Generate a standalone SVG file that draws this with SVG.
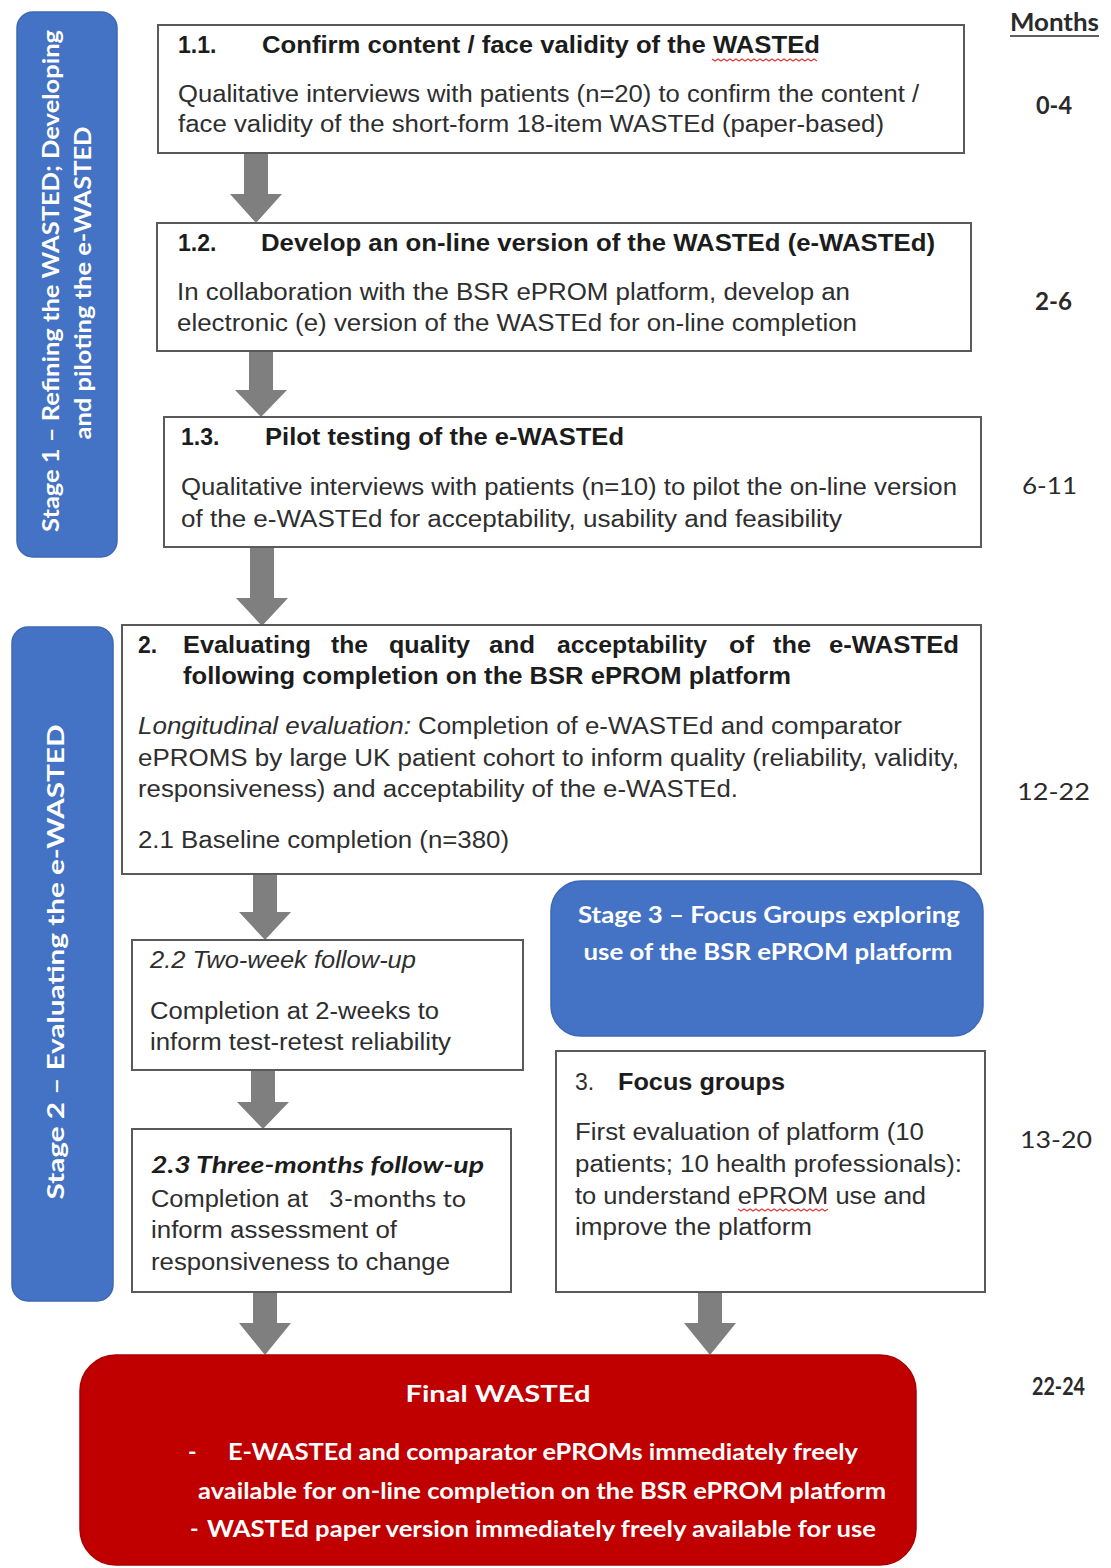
<svg xmlns="http://www.w3.org/2000/svg" width="1111" height="1568" viewBox="0 0 1111 1568">
<defs>
<style>
.box{fill:#fff;stroke:#5a5a5a;stroke-width:2}
.stage{fill:#4472C4;stroke:#3e68b4;stroke-width:1.5}
.final{fill:#C00000;stroke:#a80000;stroke-width:1.5}
.arrow{fill:#7f7f7f}
.t{font-family:"Liberation Sans",Arial,sans-serif;font-size:23px;fill:#2e2e2e}
.b{font-weight:bold;fill:#1c1c1c}
.i{font-style:italic}
.c{font-family:Lato,"Open Sans",sans-serif}
.w{fill:#fff;font-weight:bold}
.m{font-family:Lato,"Open Sans",sans-serif;font-size:24px;fill:#2a2a2a}
.sq{fill:none;stroke:#e03a3a;stroke-width:1.2}
</style>
</defs>
<rect width="1111" height="1568" fill="#fff"/>

<g id="connectors">
<path class="arrow" d="M244,153 H268 V194 H282 L256,223 L230,194 H244 Z"/>
<path class="arrow" d="M249,351 H273 V390 H287 L261,417 L235,390 H249 Z"/>
<path class="arrow" d="M250,547 H274 V598 H288 L262,626 L236,598 H250 Z"/>
<path class="arrow" d="M253,874 H277 V912 H291 L265,940 L239,912 H253 Z"/>
<path class="arrow" d="M251,1070 H275 V1102 H289 L263,1129 L237,1102 H251 Z"/>
<path class="arrow" d="M253,1292 H277 V1323 H291 L265,1355 L239,1323 H253 Z"/>
<path class="arrow" d="M698,1292 H722 V1323 H736 L710,1355 L684,1323 H698 Z"/>
</g>

<g id="months">
<text class="m b" x="1010" y="31" textLength="89" lengthAdjust="spacingAndGlyphs">Months</text>
<line x1="1010" y1="36" x2="1099" y2="36" stroke="#2a2a2a" stroke-width="1.5"/>
<text class="m b" x="1036" y="114" textLength="36" lengthAdjust="spacingAndGlyphs">0-4</text>
<text class="m b" x="1035" y="310" textLength="37" lengthAdjust="spacingAndGlyphs">2-6</text>
<text class="m" x="1022" y="494" textLength="55" lengthAdjust="spacingAndGlyphs">6-11</text>
<text class="m" x="1017" y="800" textLength="73" lengthAdjust="spacingAndGlyphs">12-22</text>
<text class="m" x="1020" y="1148" textLength="72" lengthAdjust="spacingAndGlyphs">13-20</text>
<text class="m b" x="1032" y="1395" textLength="53" lengthAdjust="spacingAndGlyphs">22-24</text>
</g>

<g id="stage1">
<rect class="stage" x="17" y="12" width="100" height="545" rx="16"/>
<text class="t c w" font-size="24" transform="translate(59,281) rotate(-90)" text-anchor="middle" textLength="502" lengthAdjust="spacingAndGlyphs">Stage 1 – Refining the WASTED; Developing</text>
<text class="t c w" font-size="24" transform="translate(91,283) rotate(-90)" text-anchor="middle" textLength="313" lengthAdjust="spacingAndGlyphs">and piloting  the e-WASTED</text>
</g>

<g id="stage2">
<rect class="stage" x="12" y="627" width="101" height="674" rx="16"/>
<text class="t c w" font-size="25" transform="translate(64,962) rotate(-90)" text-anchor="middle" textLength="475" lengthAdjust="spacingAndGlyphs">Stage 2 – Evaluating the e-WASTED</text>
</g>

<g id="box11">
<rect class="box" x="158" y="25" width="806" height="128"/>
<text class="t b" x="178" y="53">1.1.</text>
<text class="t b" x="262" y="53" textLength="558" lengthAdjust="spacingAndGlyphs">Confirm content / face validity of the WASTEd</text>
<path class="sq" d="M712,59 l3,2 l3,-2 l3,2 l3,-2 l3,2 l3,-2 l3,2 l3,-2 l3,2 l3,-2 l3,2 l3,-2 l3,2 l3,-2 l3,2 l3,-2 l3,2 l3,-2 l3,2 l3,-2 l3,2 l3,-2 l3,2 l3,-2 l3,2 l3,-2 l3,2 l3,-2 l3,2 l3,-2 l3,2 l3,-2 l3,2 l3,-2 l3,2"/>
<text class="t" x="178" y="102" textLength="741" lengthAdjust="spacingAndGlyphs">Qualitative interviews with patients (n=20) to confirm the content /</text>
<text class="t" x="178" y="132" textLength="706" lengthAdjust="spacingAndGlyphs">face validity of the short-form 18-item WASTEd (paper-based)</text>
</g>

<g id="box12">
<rect class="box" x="157" y="223" width="814" height="128"/>
<text class="t b" x="178" y="251">1.2.</text>
<text class="t b" x="261" y="251" textLength="674" lengthAdjust="spacingAndGlyphs">Develop an on-line version of the WASTEd (e-WASTEd)</text>
<text class="t" x="177" y="300" textLength="673" lengthAdjust="spacingAndGlyphs">In collaboration with the BSR ePROM platform, develop an</text>
<text class="t" x="177" y="331" textLength="680" lengthAdjust="spacingAndGlyphs">electronic (e) version of the WASTEd for on-line completion</text>
</g>

<g id="box13">
<rect class="box" x="164" y="417" width="817" height="130"/>
<text class="t b" x="181" y="445">1.3.</text>
<text class="t b" x="265" y="445" textLength="359" lengthAdjust="spacingAndGlyphs">Pilot testing of the e-WASTEd</text>
<text class="t" x="181" y="495" textLength="776" lengthAdjust="spacingAndGlyphs">Qualitative interviews with patients (n=10) to pilot the on-line version</text>
<text class="t" x="181" y="527" textLength="661" lengthAdjust="spacingAndGlyphs">of the e-WASTEd for acceptability, usability and feasibility</text>
</g>

<g id="box2">
<rect class="box" x="122" y="625" width="859" height="249"/>
<text class="t b" x="138" y="653">2.</text>
<text class="t b" x="183" y="653" textLength="128" lengthAdjust="spacingAndGlyphs">Evaluating</text>
<text class="t b" x="331" y="653" textLength="37" lengthAdjust="spacingAndGlyphs">the</text>
<text class="t b" x="389" y="653" textLength="81" lengthAdjust="spacingAndGlyphs">quality</text>
<text class="t b" x="489" y="653" textLength="46" lengthAdjust="spacingAndGlyphs">and</text>
<text class="t b" x="557" y="653" textLength="150" lengthAdjust="spacingAndGlyphs">acceptability</text>
<text class="t b" x="729" y="653" textLength="25" lengthAdjust="spacingAndGlyphs">of</text>
<text class="t b" x="773" y="653" textLength="38" lengthAdjust="spacingAndGlyphs">the</text>
<text class="t b" x="829" y="653" textLength="130" lengthAdjust="spacingAndGlyphs">e-WASTEd</text>
<text class="t b" x="183" y="684" textLength="608" lengthAdjust="spacingAndGlyphs">following completion on the BSR ePROM platform</text>
<text class="t i" x="138" y="734" textLength="273" lengthAdjust="spacingAndGlyphs">Longitudinal  evaluation:</text>
<text class="t" x="418" y="734" textLength="484" lengthAdjust="spacingAndGlyphs">Completion of e-WASTEd and comparator</text>
<text class="t" x="138" y="766" textLength="821" lengthAdjust="spacingAndGlyphs">ePROMS by large UK patient cohort to inform quality (reliability, validity,</text>
<text class="t" x="138" y="797" textLength="600" lengthAdjust="spacingAndGlyphs">responsiveness) and acceptability of the e-WASTEd.</text>
<text class="t" x="138" y="848" textLength="371" lengthAdjust="spacingAndGlyphs">2.1 Baseline completion (n=380)</text>
</g>

<g id="box22">
<rect class="box" x="132" y="940" width="391" height="130"/>
<text class="t i" x="150" y="968" textLength="266" lengthAdjust="spacingAndGlyphs">2.2 Two-week follow-up</text>
<text class="t" x="150" y="1019" textLength="289" lengthAdjust="spacingAndGlyphs">Completion at 2-weeks to</text>
<text class="t" x="150" y="1050" textLength="301" lengthAdjust="spacingAndGlyphs">inform test-retest reliability</text>
</g>

<g id="box23">
<rect class="box" x="132" y="1129" width="379" height="163"/>
<text class="t c b i" x="151" y="1173" font-size="25" textLength="333" lengthAdjust="spacingAndGlyphs">2.3 Three-months follow-up</text>
<text class="t" x="151" y="1207" textLength="157" lengthAdjust="spacingAndGlyphs">Completion at</text>
<text class="t c" x="329" y="1207" font-size="25" textLength="137" lengthAdjust="spacingAndGlyphs">3-months to</text>
<text class="t" x="151" y="1238" textLength="246" lengthAdjust="spacingAndGlyphs">inform assessment of</text>
<text class="t" x="151" y="1270" textLength="299" lengthAdjust="spacingAndGlyphs">responsiveness to change</text>
</g>

<g id="stage3">
<rect class="stage" x="551" y="881" width="432" height="155" rx="30"/>
<text class="t c w" x="769" y="923" font-size="24" text-anchor="middle" textLength="382" lengthAdjust="spacingAndGlyphs">Stage 3 – Focus Groups exploring</text>
<text class="t c w" x="768" y="960" font-size="24" text-anchor="middle" textLength="369" lengthAdjust="spacingAndGlyphs">use of the BSR ePROM platform</text>
</g>

<g id="box3">
<rect class="box" x="556" y="1051" width="429" height="241"/>
<text class="t" x="575" y="1090">3.</text>
<text class="t b" x="618" y="1090" textLength="167" lengthAdjust="spacingAndGlyphs">Focus groups</text>
<text class="t" x="575" y="1140" textLength="349" lengthAdjust="spacingAndGlyphs">First evaluation of platform (10</text>
<text class="t" x="575" y="1172" textLength="387" lengthAdjust="spacingAndGlyphs">patients; 10 health professionals):</text>
<text class="t" x="575" y="1204" textLength="351" lengthAdjust="spacingAndGlyphs">to understand ePROM use and</text>
<path class="sq" d="M738,1209 l3,2 l3,-2 l3,2 l3,-2 l3,2 l3,-2 l3,2 l3,-2 l3,2 l3,-2 l3,2 l3,-2 l3,2 l3,-2 l3,2 l3,-2 l3,2 l3,-2 l3,2 l3,-2 l3,2 l3,-2 l3,2 l3,-2 l3,2 l3,-2 l3,2 l3,-2 l3,2 l3,-2"/>
<text class="t" x="575" y="1235" textLength="237" lengthAdjust="spacingAndGlyphs">improve the platform</text>
</g>

<g id="final">
<rect class="final" x="80" y="1355" width="836" height="210" rx="36"/>
<text class="t c w" x="498" y="1402" font-size="27" text-anchor="middle" textLength="185" lengthAdjust="spacingAndGlyphs">Final WASTEd</text>
<text class="t c w" x="188" y="1460" font-size="24">-</text>
<text class="t c w" x="228" y="1460" font-size="24" textLength="630" lengthAdjust="spacingAndGlyphs">E-WASTEd and comparator ePROMs immediately freely</text>
<text class="t c w" x="198" y="1499" font-size="24" textLength="688" lengthAdjust="spacingAndGlyphs">available for on-line completion  on the BSR ePROM platform</text>
<text class="t c w" x="190" y="1537" font-size="24">-</text>
<text class="t c w" x="207" y="1537" font-size="24" textLength="669" lengthAdjust="spacingAndGlyphs">WASTEd paper version immediately freely available for use</text>
</g>
</svg>
